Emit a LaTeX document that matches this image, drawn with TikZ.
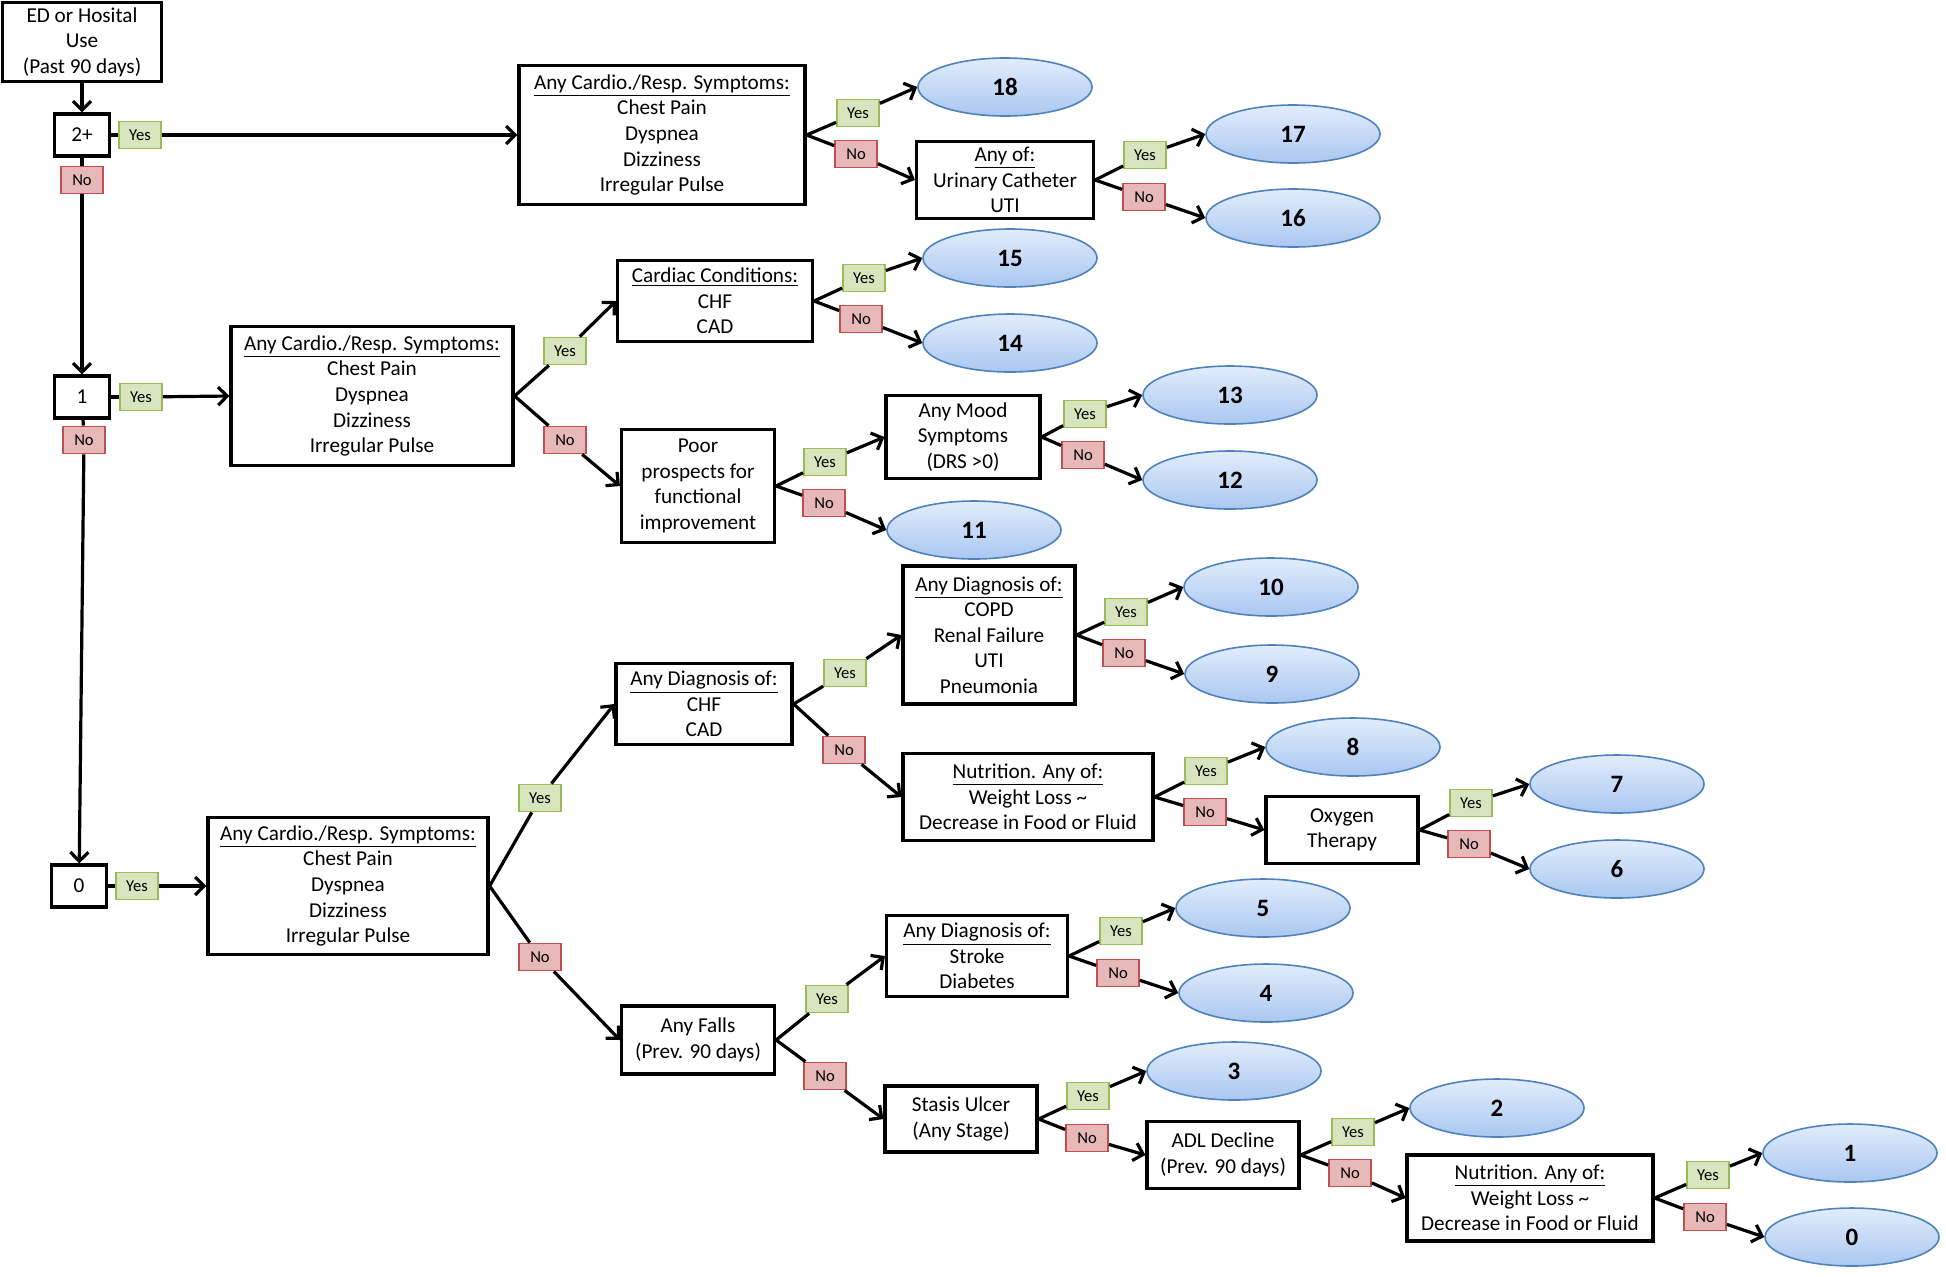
\documentclass[tikz,border=0pt]{standalone}
\usepackage{fontspec}
\setmainfont{Carlito}
\usetikzlibrary{arrows.meta,shapes.geometric}

\definecolor{yesfill}{HTML}{D7E4BD}
\definecolor{yesline}{HTML}{9BBB59}
\definecolor{nofill}{HTML}{E6B9B8}
\definecolor{noline}{HTML}{C0504D}
\definecolor{leaftop}{HTML}{E2EDFC}
\definecolor{leafbot}{HTML}{A9C7F0}
\definecolor{leafline}{HTML}{4F81BD}

\begin{document}
\begin{tikzpicture}[x=0.5pt,y=-0.5pt,line width=1.6pt,>={Straight Barb[length=4.5pt,width=9pt]},
  font=\fontsize{10.6}{12.8}\selectfont]
\tikzstyle{cond}=[draw,line width=1.6pt,align=center,inner sep=1pt]
\tikzstyle{leaf}=[ellipse,draw=leafline,line width=0.8pt,top color=leaftop,bottom color=leafbot,
  minimum width=87pt,minimum height=29pt,inner sep=0pt,font=\fontsize{12.5}{14}\selectfont\bfseries]
\tikzstyle{yeslab}=[draw=yesline,fill=yesfill,line width=0.9pt,minimum width=21pt,
  minimum height=13.5pt,inner sep=0pt,font=\fontsize{8.3}{9}\selectfont]
\tikzstyle{nolab}=[yeslab,draw=noline,fill=nofill]

\useasboundingbox (0,0) rectangle (1946,1276);

% first column
\node[cond,minimum width=79.5pt,minimum height=39.5pt] (ED) at (82,42) {ED or Hosital\\Use\\(Past 90 days)};
\node[cond,minimum width=27.5pt,minimum height=21pt] (V2) at (82,135) {2+};
\node[cond,minimum width=27.5pt,minimum height=21pt] (V1) at (82,397) {1};
\node[cond,minimum width=27.5pt,minimum height=21pt] (V0) at (79,886) {0};
\node[yeslab] (yV2) at (140,135) {Yes};
\node[nolab] (nV2) at (82,180) {No};
\node[yeslab] (yV1) at (141,397) {Yes};
\node[nolab] (nV1) at (84,440) {No};
\node[yeslab] (yV0) at (137,886) {Yes};

% 2+ branch
\node[cond,minimum width=143pt,minimum height=69.5pt] (SA) at (662,135)
  {\underline{Any Cardio./Resp. Symptoms:}\\Chest Pain\\Dyspnea\\Dizziness\\Irregular Pulse};
\node[yeslab] (ySA) at (858,113) {Yes};
\node[nolab] (nSA) at (856,154) {No};
\node[leaf] (L18) at (1005,87) {18};
\node[cond,minimum width=88.5pt,minimum height=38.5pt] (UC) at (1005,180)
  {\underline{Any of:}\\Urinary Catheter\\UTI};
\node[yeslab] (yUC) at (1145,155) {Yes};
\node[nolab] (nUC) at (1144,197) {No};
\node[leaf] (L17) at (1293,134) {17};
\node[leaf] (L16) at (1293,218) {16};

% 1 branch
\node[cond,minimum width=141pt,minimum height=69.5pt] (SB) at (372,396)
  {\underline{Any Cardio./Resp. Symptoms:}\\Chest Pain\\Dyspnea\\Dizziness\\Irregular Pulse};
\node[yeslab] (ySB) at (565,351) {Yes};
\node[nolab] (nSB) at (565,440) {No};
\node[cond,minimum width=97.5pt,minimum height=40.5pt] (CC) at (715,301)
  {\underline{Cardiac Conditions:}\\CHF\\CAD};
\node[yeslab] (yCC) at (864,278) {Yes};
\node[nolab] (nCC) at (861,319) {No};
\node[leaf] (L15) at (1010,258) {15};
\node[leaf] (L14) at (1010,343) {14};
\node[cond,minimum width=76.5pt,minimum height=56.5pt] (PP) at (698,486)
  {Poor\\prospects for\\functional\\improvement};
\node[yeslab] (yPP) at (825,462) {Yes};
\node[nolab] (nPP) at (824,503) {No};
\node[cond,minimum width=77pt,minimum height=41.5pt] (MS) at (963,437)
  {Any Mood\\Symptoms\\(DRS >0)};
\node[yeslab] (yMS) at (1085,414) {Yes};
\node[nolab] (nMS) at (1083,455) {No};
\node[leaf] (L13) at (1230,395) {13};
\node[leaf] (L12) at (1230,480) {12};
\node[leaf] (L11) at (974,530) {11};

% 0 branch
\node[cond,minimum width=140pt,minimum height=68.5pt] (SC) at (348,886)
  {\underline{Any Cardio./Resp. Symptoms:}\\Chest Pain\\Dyspnea\\Dizziness\\Irregular Pulse};
\node[yeslab] (ySC) at (540,798) {Yes};
\node[nolab] (nSC) at (540,957) {No};
\node[cond,minimum width=88pt,minimum height=40.5pt] (DX) at (704,704)
  {\underline{Any Diagnosis of:}\\CHF\\CAD};
\node[yeslab] (yDX) at (845,673) {Yes};
\node[nolab] (nDX) at (844,750) {No};
\node[cond,minimum width=86pt,minimum height=69pt] (CO) at (989,635)
  {\underline{Any Diagnosis of:}\\COPD\\Renal Failure\\UTI\\Pneumonia};
\node[yeslab] (yCO) at (1126,612) {Yes};
\node[nolab] (nCO) at (1124,653) {No};
\node[leaf] (L10) at (1271,587) {10};
\node[leaf] (L9) at (1272,674) {9};
\node[cond,minimum width=125pt,minimum height=43.5pt] (NA) at (1028,797)
  {\underline{Nutrition. Any of:}\\Weight Loss \textasciitilde\\Decrease in Food or Fluid};
\node[yeslab] (yNA) at (1206,771) {Yes};
\node[nolab] (nNA) at (1205,812) {No};
\node[leaf] (L8) at (1353,747) {8};
\node[cond,minimum width=76pt,minimum height=33.5pt] (OX) at (1342,830) {Oxygen\\Therapy};
\node[yeslab] (yOX) at (1471,803) {Yes};
\node[nolab] (nOX) at (1469,844) {No};
\node[leaf] (L7) at (1617,784) {7};
\node[leaf] (L6) at (1617,869) {6};
\node[cond,minimum width=76.5pt,minimum height=34pt] (FA) at (698,1040) {Any Falls\\(Prev. 90 days)};
\node[yeslab] (yFA) at (827,999) {Yes};
\node[nolab] (nFA) at (825,1076) {No};
\node[cond,minimum width=90.5pt,minimum height=40.5pt] (SD) at (977,956)
  {\underline{Any Diagnosis of:}\\Stroke\\Diabetes};
\node[yeslab] (ySD) at (1121,931) {Yes};
\node[nolab] (nSD) at (1118,973) {No};
\node[leaf] (L5) at (1263,908) {5};
\node[leaf] (L4) at (1266,993) {4};
\node[cond,minimum width=76pt,minimum height=33pt] (SU) at (961,1119) {Stasis Ulcer\\(Any Stage)};
\node[yeslab] (ySU) at (1088,1096) {Yes};
\node[nolab] (nSU) at (1087,1138) {No};
\node[leaf] (L3) at (1234,1071) {3};
\node[cond,minimum width=76pt,minimum height=33.5pt] (AD) at (1223,1155) {ADL Decline\\(Prev. 90 days)};
\node[yeslab] (yAD) at (1353,1132) {Yes};
\node[nolab] (nAD) at (1350,1173) {No};
\node[leaf] (L2) at (1497,1108) {2};
\node[cond,minimum width=123pt,minimum height=43pt] (NB) at (1530,1198)
  {\underline{Nutrition. Any of:}\\Weight Loss \textasciitilde\\Decrease in Food or Fluid};
\node[yeslab] (yNB) at (1708,1175) {Yes};
\node[nolab] (nNB) at (1705,1217) {No};
\node[leaf] (L1) at (1850,1153) {1};
\node[leaf] (L0) at (1852,1237) {0};

% first column links
\path[->] (ED) edge (V2);
\path (V2) edge (yV2);
\path[->] (yV2) edge (SA.west);
\path (V2) edge (nV2);
\path[->] (nV2) edge (V1);
\path (V1) edge (yV1);
\path[->] (yV1) edge (SB.west);
\path (V1) edge (nV1);
\path[->] (nV1) edge (V0);
\path (V0) edge (yV0);
\path[->] (yV0) edge (SC.west);

% decisions
\path (SA.east) edge (ySA) edge (nSA);
\path[->] (ySA) edge (L18.west);
\path[->] (nSA) edge (UC.west);
\path (UC.east) edge (yUC) edge (nUC);
\path[->] (yUC) edge (L17.west);
\path[->] (nUC) edge (L16.west);

\path (SB.east) edge (ySB) edge (nSB);
\path[->] (ySB) edge (CC.west);
\path[->] (nSB) edge (PP.west);
\path (CC.east) edge (yCC) edge (nCC);
\path[->] (yCC) edge (L15.west);
\path[->] (nCC) edge (L14.west);
\path (PP.east) edge (yPP) edge (nPP);
\path[->] (yPP) edge (MS.west);
\path[->] (nPP) edge (L11.west);
\path (MS.east) edge (yMS) edge (nMS);
\path[->] (yMS) edge (L13.west);
\path[->] (nMS) edge (L12.west);

\path (SC.east) edge (ySC) edge (nSC);
\path[->] (ySC) edge (DX.west);
\path[->] (nSC) edge (FA.west);
\path (DX.east) edge (yDX) edge (nDX);
\path[->] (yDX) edge (CO.west);
\path[->] (nDX) edge (NA.west);
\path (CO.east) edge (yCO) edge (nCO);
\path[->] (yCO) edge (L10.west);
\path[->] (nCO) edge (L9.west);
\path (NA.east) edge (yNA) edge (nNA);
\path[->] (yNA) edge (L8.west);
\path[->] (nNA) edge (OX.west);
\path (OX.east) edge (yOX) edge (nOX);
\path[->] (yOX) edge (L7.west);
\path[->] (nOX) edge (L6.west);
\path (FA.east) edge (yFA) edge (nFA);
\path[->] (yFA) edge (SD.west);
\path[->] (nFA) edge (SU.west);
\path (SD.east) edge (ySD) edge (nSD);
\path[->] (ySD) edge (L5.west);
\path[->] (nSD) edge (L4.west);
\path (SU.east) edge (ySU) edge (nSU);
\path[->] (ySU) edge (L3.west);
\path[->] (nSU) edge (AD.west);
\path (AD.east) edge (yAD) edge (nAD);
\path[->] (yAD) edge (L2.west);
\path[->] (nAD) edge (NB.west);
\path (NB.east) edge (yNB) edge (nNB);
\path[->] (yNB) edge (L1.west);
\path[->] (nNB) edge (L0.west);

\end{tikzpicture}
\end{document}
